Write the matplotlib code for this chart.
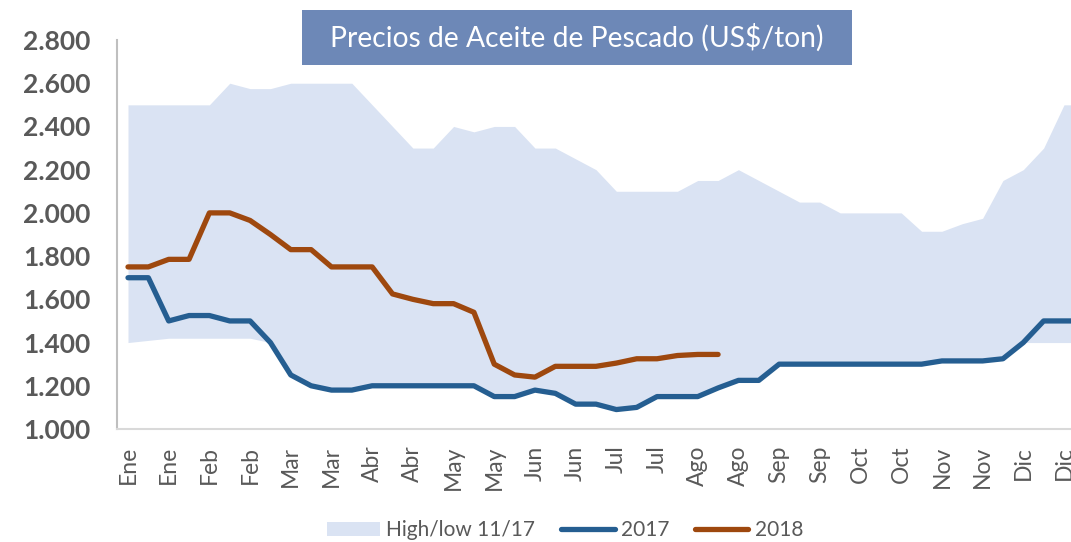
import matplotlib
matplotlib.use("Agg")
import matplotlib.pyplot as plt
from matplotlib.patches import Patch, Rectangle
from matplotlib.lines import Line2D
import numpy as np

# ---- data (US$/ton), weekly points ----
high = [2500, 2500, 2500, 2500, 2500, 2600, 2575, 2575, 2600, 2600, 2600, 2600,
        2500, 2400, 2300, 2300, 2400, 2375, 2400, 2400, 2300, 2300, 2250, 2200,
        2100, 2100, 2100, 2100, 2150, 2150, 2200, 2150, 2100, 2050, 2050, 2000,
        2000, 2000, 2000, 1915, 1915, 1950, 1975, 2150, 2200, 2300, 2500, 2500]
low = [1400, 1410, 1420, 1420, 1420, 1420, 1420, 1400, 1250, 1200, 1180, 1180,
       1200, 1200, 1200, 1200, 1200, 1200, 1150, 1150, 1180, 1165, 1115, 1115,
       1090, 1100, 1150, 1150, 1150, 1190, 1225, 1225, 1300, 1300, 1300, 1300,
       1300, 1300, 1300, 1300, 1315, 1315, 1315, 1325, 1400, 1400, 1400, 1400]
y2017 = [1700, 1700, 1500, 1525, 1525, 1500, 1500, 1400, 1250, 1200, 1180, 1180,
         1200, 1200, 1200, 1200, 1200, 1200, 1150, 1150, 1180, 1165, 1115, 1115,
         1090, 1100, 1150, 1150, 1150, 1190, 1225, 1225, 1300, 1300, 1300, 1300,
         1300, 1300, 1300, 1300, 1315, 1315, 1315, 1325, 1400, 1500, 1500, 1500]
y2018 = [1750, 1750, 1785, 1785, 2000, 2000, 1965, 1900, 1830, 1830, 1750, 1750,
         1750, 1625, 1600, 1580, 1580, 1540, 1300, 1250, 1240, 1290, 1290, 1290,
         1305, 1325, 1325, 1340, 1345, 1345]
month_labels = ["Ene", "Ene", "Feb", "Feb", "Mar", "Mar", "Abr", "Abr", "May", "May",
                "Jun", "Jun", "Jul", "Jul", "Ago", "Ago", "Sep", "Sep", "Oct", "Oct",
                "Nov", "Nov", "Dic", "Dic"]
y_ticks = [1000, 1200, 1400, 1600, 1800, 2000, 2200, 2400, 2600, 2800]
y_tick_labels = ["1.000", "1.200", "1.400", "1.600", "1.800", "2.000", "2.200",
                 "2.400", "2.600", "2.800"]
title = "Precios de Aceite de Pescado (US$/ton)"
legend_labels = ["High/low 11/17", "2017", "2018"]

# ---- style ----
C_BAND = "#DAE3F3"
C_2017 = "#255E91"
C_2018 = "#9E480E"
C_TEXT = "#595959"
C_TITLE_BOX = "#6D88B7"

W, H = 1071, 542
fig = plt.figure(figsize=(W / 100, H / 100), dpi=100)
fig.patch.set_facecolor("white")

ax_left, ax_bottom, ax_top = 117 / W, (H - 429) / H, (H - 40) / H
ax = fig.add_axes([ax_left, ax_bottom, 1.0 - ax_left, ax_top - ax_bottom])

x_all = np.arange(len(high))
ax.fill_between(x_all, low, high, color=C_BAND, linewidth=0, zorder=1)
ax.plot(np.arange(len(y2017)), y2017, color=C_2017, lw=3.8,
        solid_capstyle="round", solid_joinstyle="round", zorder=3)
ax.plot(np.arange(len(y2018)), y2018, color=C_2018, lw=3.8,
        solid_capstyle="round", solid_joinstyle="round", zorder=4)

x_step = 936 / 46  # pixels per index
x0 = -(128 - 117) / x_step
x1 = (W - 128) / x_step
ax.set_xlim(x0, x1)
ax.set_ylim(1000, 2800)

ax.set_xticks(np.arange(0, 2 * len(month_labels), 2))
ax.set_xticklabels(month_labels, rotation=90, fontsize=16.5, color=C_TEXT,
                   family="Lato", va="top", ha="center")
ax.set_yticks(y_ticks)
ax.set_yticklabels(y_tick_labels, fontsize=19, fontweight="bold", color=C_TEXT,
                   family="Lato")
ax.tick_params(axis="x", length=0, pad=12)
ax.tick_params(axis="y", length=0, pad=19)

for s in ["top", "right"]:
    ax.spines[s].set_visible(False)
ax.spines["left"].set_color("#BFBFBF")
ax.spines["left"].set_linewidth(1.5)
ax.spines["bottom"].set_color("#D9D9D9")
ax.spines["bottom"].set_linewidth(1.5)
ax.set_facecolor("none")

# title box
fig.patches.append(Rectangle((302 / W, (H - 65) / H), (852 - 302) / W, 55 / H,
                             transform=fig.transFigure, facecolor=C_TITLE_BOX,
                             edgecolor="none", zorder=5))
fig.text(577 / W, (H - 38) / H, title, color="white", fontsize=20.3,
         family="Lato", ha="center", va="center", zorder=6)

# legend
handles = [Patch(facecolor=C_BAND, edgecolor="none"),
           Line2D([0], [0], color=C_2017, lw=3.8, solid_capstyle="round"),
           Line2D([0], [0], color=C_2018, lw=3.8, solid_capstyle="round")]
leg = fig.legend(handles, legend_labels, loc="center", ncol=3,
                 bbox_to_anchor=(565 / W, (H - 530) / H), frameon=False,
                 prop={"family": "Lato", "size": 15}, labelcolor=C_TEXT,
                 handlelength=2.55, handleheight=0.65, handletextpad=0.3,
                 columnspacing=1.25)

fig.savefig("out.png", dpi=100)
